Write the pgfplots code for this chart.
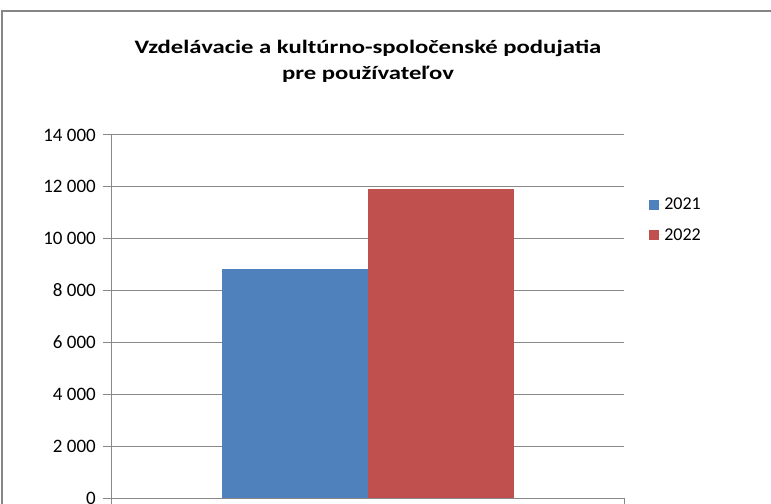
\documentclass[border=0pt]{standalone}
\usepackage{pgfplots}
\pgfplotsset{compat=1.18}
\usepackage{fontspec}
\setmainfont{Carlito}
\newfontfamily\titlefont[FakeStretch=1.3]{Carlito}
\definecolor{cA}{HTML}{4F81BD}
\definecolor{cB}{HTML}{C0504D}
\definecolor{gridgray}{HTML}{888888}
\definecolor{bordergray}{HTML}{868686}
\begin{document}
\begin{tikzpicture}
\path[use as bounding box] (0,0) rectangle (771bp,504bp);
\clip (0,0) rectangle (771bp,504bp);
\fill[white] (0,0) rectangle (771bp,504bp);
\draw[bordergray, line width=1.5bp] (2bp,-20bp) rectangle (800bp,493bp);
\node[anchor=base, font=\titlefont\bfseries\fontsize{19bp}{24bp}\selectfont] at (368bp,450.5bp) {Vzdelávacie a kultúrno-spoločenské podujatia};
\node[anchor=base, font=\titlefont\bfseries\fontsize{19bp}{24bp}\selectfont] at (368bp,424.5bp) {pre používateľov};
\begin{axis}[
  at={(111bp,6bp)}, anchor=south west,
  scale only axis, width=513bp, height=363bp,
  xmin=0, xmax=1, ymin=0, ymax=14000,
  ytick={0,2000,...,14000},
  xtick={0,1}, xticklabels={},
  ymajorgrids, grid style={gridgray, line width=1bp},
  axis x line*=bottom, axis y line*=left,
  axis line style={gridgray, line width=1bp, -},
  tick align=outside, major tick length=8bp,
  tick style={gridgray, line width=1bp},
  /pgf/number format/.cd, assume math mode=true, 1000 sep={\ },
  /pgfplots/.cd,
  yticklabel style={font=\fontsize{19bp}{22bp}\selectfont, text=black, inner sep=0pt, xshift=-7bp},
  scaled y ticks=false,
  legend style={at={(axis description cs:1.049,0.832)}, anchor=north west, draw=none, fill=none,
    inner sep=0pt, row sep=13bp, font=\fontsize{18bp}{22bp}\selectfont, cells={anchor=west}},
  legend image code/.code={\fill[#1] (0bp,-5bp) rectangle (10bp,5bp); \path (0bp,0bp) -- (13bp,0bp);},
]
\addplot[ybar, fill=cA, draw=none, bar width=146bp, bar shift=-73bp] coordinates {(0.5,8820)};
\addplot[ybar, fill=cB, draw=none, bar width=146bp, bar shift=73bp] coordinates {(0.5,11920)};
\legend{2021,2022}
\end{axis}
\end{tikzpicture}
\end{document}
